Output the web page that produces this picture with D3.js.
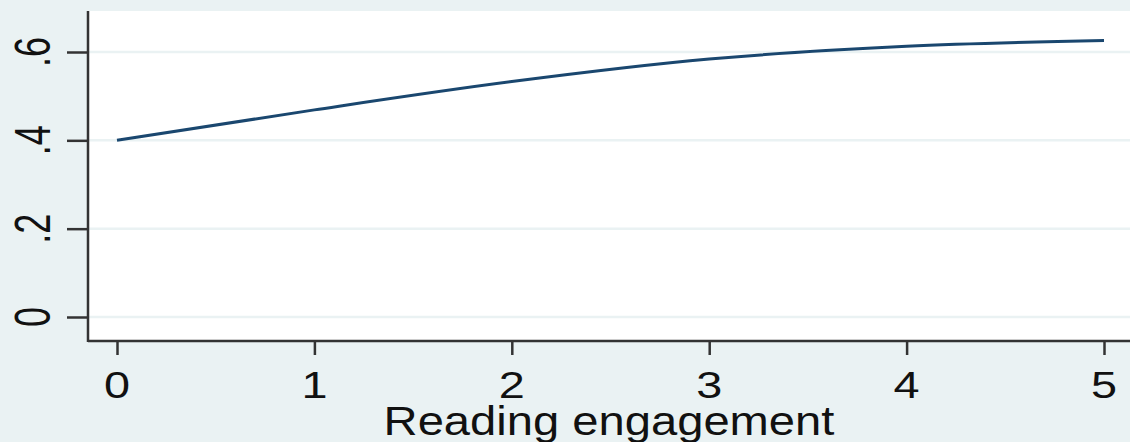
<!DOCTYPE html>
<html>
<head>
    <style>
        body { margin: 0; background: #eaf2f3; }
        text { font-family: "Liberation Sans", Arial, sans-serif; fill: #111; }
    </style>
    <script src="https://d3js.org/d3.v7.min.js"></script>
</head>
<body>
    <svg id="chart"></svg>
    <script>
        // predicted values by reading engagement
        const engagement = [0, 1, 2, 3, 4, 5];
        const predicted = [0.400, 0.469, 0.533, 0.584, 0.613, 0.626];
        const yTicks = [0, 0.2, 0.4, 0.6];
        const yTickLabels = ["0", ".2", ".4", ".6"];
        const xLabel = "Reading engagement";

        const width = 1130, height = 442;
        const plot = { left: 88, right: 1130, top: 11, bottom: 341 };

        const svg = d3.select('#chart')
            .attr('width', width)
            .attr('height', height)
            .style('display', 'block');

        svg.append('rect')
            .attr('width', width).attr('height', height)
            .attr('fill', '#eaf2f3');

        svg.append('rect')
            .attr('x', plot.left).attr('y', plot.top)
            .attr('width', plot.right - plot.left)
            .attr('height', plot.bottom - plot.top)
            .attr('fill', '#fff');

        const x = d3.scaleLinear().domain([0, 5]).range([117, 1104]);
        const y = d3.scaleLinear().domain([0, 0.6]).range([317, 52]);

        // gridlines
        svg.append('g')
            .selectAll('line')
            .data(yTicks)
            .enter().append('line')
            .attr('x1', plot.left).attr('x2', plot.right)
            .attr('y1', d => y(d)).attr('y2', d => y(d))
            .attr('stroke', '#eaf2f3')
            .attr('stroke-width', 2.5);

        // y axis
        const yAxis = svg.append('g')
            .attr('transform', `translate(${plot.left},0)`)
            .call(d3.axisLeft(y).tickValues(yTicks).tickSize(21).tickFormat(''));
        yAxis.select('.domain').remove();
        yAxis.selectAll('line').attr('stroke', '#333').attr('stroke-width', 2.5);
        svg.append('line')
            .attr('x1', plot.left).attr('x2', plot.left)
            .attr('y1', plot.top).attr('y2', plot.bottom + 1)
            .attr('stroke', '#333').attr('stroke-width', 2.5);

        svg.append('g')
            .selectAll('text')
            .data(yTicks)
            .enter().append('text')
            .attr('transform', d => `translate(50,${y(d)}) scale(1.4,1) rotate(-90)`)
            .attr('text-anchor', 'middle')
            .attr('font-size', 36)
            .text((d, i) => yTickLabels[i]);

        // x axis
        const xAxis = svg.append('g')
            .attr('transform', `translate(0,${plot.bottom})`)
            .call(d3.axisBottom(x).tickValues(engagement).tickSize(14).tickFormat(''));
        xAxis.select('.domain').remove();
        xAxis.selectAll('line').attr('stroke', '#333').attr('stroke-width', 2.5);
        svg.append('line')
            .attr('x1', plot.left).attr('x2', plot.right)
            .attr('y1', plot.bottom).attr('y2', plot.bottom)
            .attr('stroke', '#333').attr('stroke-width', 2.5);

        svg.append('g')
            .selectAll('text')
            .data(engagement)
            .enter().append('text')
            .attr('transform', d => `translate(${x(d)},398) scale(1.3,1)`)
            .attr('text-anchor', 'middle')
            .attr('font-size', 36)
            .text(d => d);

        svg.append('text')
            .attr('transform', `translate(${(plot.left + plot.right) / 2},435) scale(1.15,1)`)
            .attr('text-anchor', 'middle')
            .attr('font-size', 41)
            .text(xLabel);

        // line
        const line = d3.line()
            .x((d, i) => x(engagement[i]))
            .y(d => y(d))
            .curve(d3.curveMonotoneX);

        svg.append('path')
            .datum(predicted)
            .attr('d', line)
            .attr('fill', 'none')
            .attr('stroke', '#1a476f')
            .attr('stroke-width', 3);
    </script>
</body>
</html>
